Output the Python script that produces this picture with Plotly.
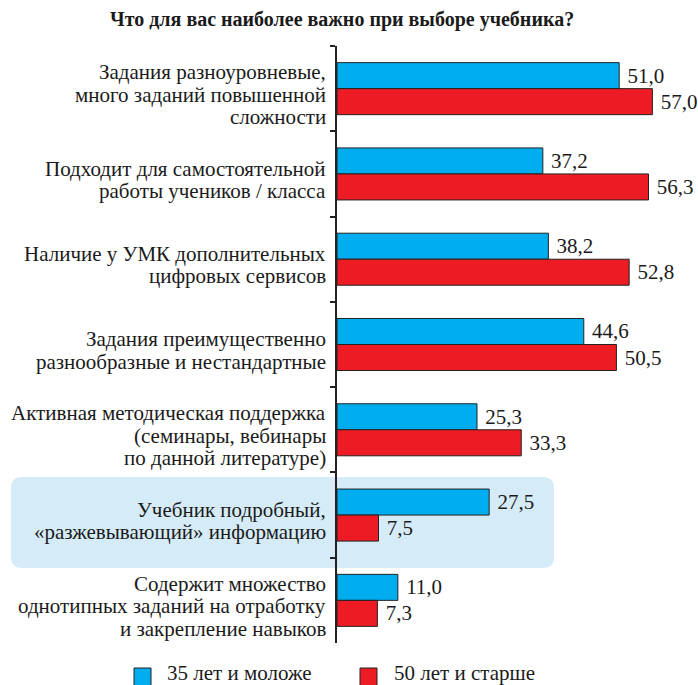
import plotly.graph_objects as go

# Survey data: share of teachers (%) by age group
categories = [
    "Задания разноуровневые,<br>много заданий повышенной<br>сложности",
    "Подходит для самостоятельной<br>работы учеников / класса",
    "Наличие у УМК дополнительных<br>цифровых сервисов",
    "Задания преимущественно<br>разнообразные и нестандартные",
    "Активная методическая поддержка<br>(семинары, вебинары<br>по данной литературе)",
    "Учебник подробный,<br>«разжевывающий» информацию",
    "Содержит множество<br>однотипных заданий на отработку<br>и закрепление навыков",
]
young_values = [51.0, 37.2, 38.2, 44.6, 25.3, 27.5, 11.0]
senior_values = [57.0, 56.3, 52.8, 50.5, 33.3, 7.5, 7.3]
series_names = ["35 лет и моложе", "50 лет и старше"]
title_text = "Что для вас наиболее важно при выборе учебника?"

BLUE = "#00AEEF"
RED = "#ED1C24"
HIGHLIGHT = "#D5ECF8"
INK = "#1a1a1a"
FONT = "Liberation Serif"
FS = 21

W, H = 698, 685
L, R, T, B = 337, 29, 46, 42
PW, PH = W - L - R, H - T - B


def px_x(px):
    return (px - L) / PW


def px_y(py):
    return (H - B - py) / PH


def fmt(v):
    # Russian decimal comma
    return " " + f"{v:.1f}".replace(".", ",")


fig = go.Figure()
for name, vals, color in [(series_names[0], young_values, BLUE),
                          (series_names[1], senior_values, RED)]:
    fig.add_trace(go.Bar(
        y=categories, x=vals, name=name, orientation="h",
        marker=dict(color=color, line=dict(color="#222222", width=1)),
        text=[fmt(v) for v in vals], textposition="outside",
        textfont=dict(family=FONT, size=FS, color=INK),
        cliponaxis=False, constraintext="none",
        showlegend=False,
    ))

# category captions: right-aligned, tight line spacing
LINE_H = 22.5
for cat in categories:
    lines = cat.split("<br>")
    n = len(lines)
    for j, line in enumerate(lines):
        shift = 6 + (j - (n - 1) / 2) * LINE_H
        fig.add_annotation(text=line, xref="paper", yref="y", x=px_x(328), y=cat,
                           xanchor="right", yanchor="middle", yshift=-shift,
                           showarrow=False, font=dict(family=FONT, size=FS, color=INK))

# rounded highlight panel behind one category
x0, x1, y0, y1, rad = 11, 554, 477, 568, 11


def P(x, y):
    return f"{px_x(x):.5f},{px_y(y):.5f}"


path = (
    f"M {P(x0 + rad, y0)} L {P(x1 - rad, y0)} Q {P(x1, y0)} {P(x1, y0 + rad)} "
    f"L {P(x1, y1 - rad)} Q {P(x1, y1)} {P(x1 - rad, y1)} "
    f"L {P(x0 + rad, y1)} Q {P(x0, y1)} {P(x0, y1 - rad)} "
    f"L {P(x0, y0 + rad)} Q {P(x0, y0)} {P(x0 + rad, y0)} Z"
)
fig.add_shape(type="path", path=path, xref="paper", yref="paper",
              fillcolor=HIGHLIGHT, line=dict(width=0), layer="below")

# legend drawn as swatches + captions
legend_items = [(134, BLUE, 165, series_names[0]), (360, RED, 392, series_names[1])]
for sx, col, tx, label in legend_items:
    fig.add_shape(type="rect", xref="paper", yref="paper",
                  x0=px_x(sx), x1=px_x(sx + 17), y0=px_y(668), y1=px_y(688),
                  fillcolor=col, line=dict(color="#222222", width=1))
    fig.add_annotation(text=label, xref="paper", yref="paper",
                       x=px_x(tx), y=px_y(673), xanchor="left", yanchor="middle",
                       showarrow=False, font=dict(family=FONT, size=FS, color=INK))

# title as a bold annotation
fig.add_annotation(text=f"<b>{title_text}</b>", xref="paper", yref="paper",
                   x=px_x(342), y=px_y(20), xanchor="center", yanchor="middle",
                   showarrow=False, font=dict(family=FONT, size=20, color=INK))

fig.update_layout(
    width=W, height=H,
    margin=dict(l=L, r=R, t=T, b=B),
    barmode="group", bargap=0.39, bargroupgap=0,
    paper_bgcolor="white", plot_bgcolor="rgba(0,0,0,0)",
)
fig.update_xaxes(range=[0, 60], visible=False, showgrid=False, zeroline=False)
fig.update_yaxes(
    autorange="reversed", showgrid=False, zeroline=False, showticklabels=False,
    showline=True, linecolor="#222222", linewidth=1.5,
    ticks="outside", tickson="boundaries", ticklen=5, tickcolor="#222222", tickwidth=1.5,
)

fig.write_html("out.html")
